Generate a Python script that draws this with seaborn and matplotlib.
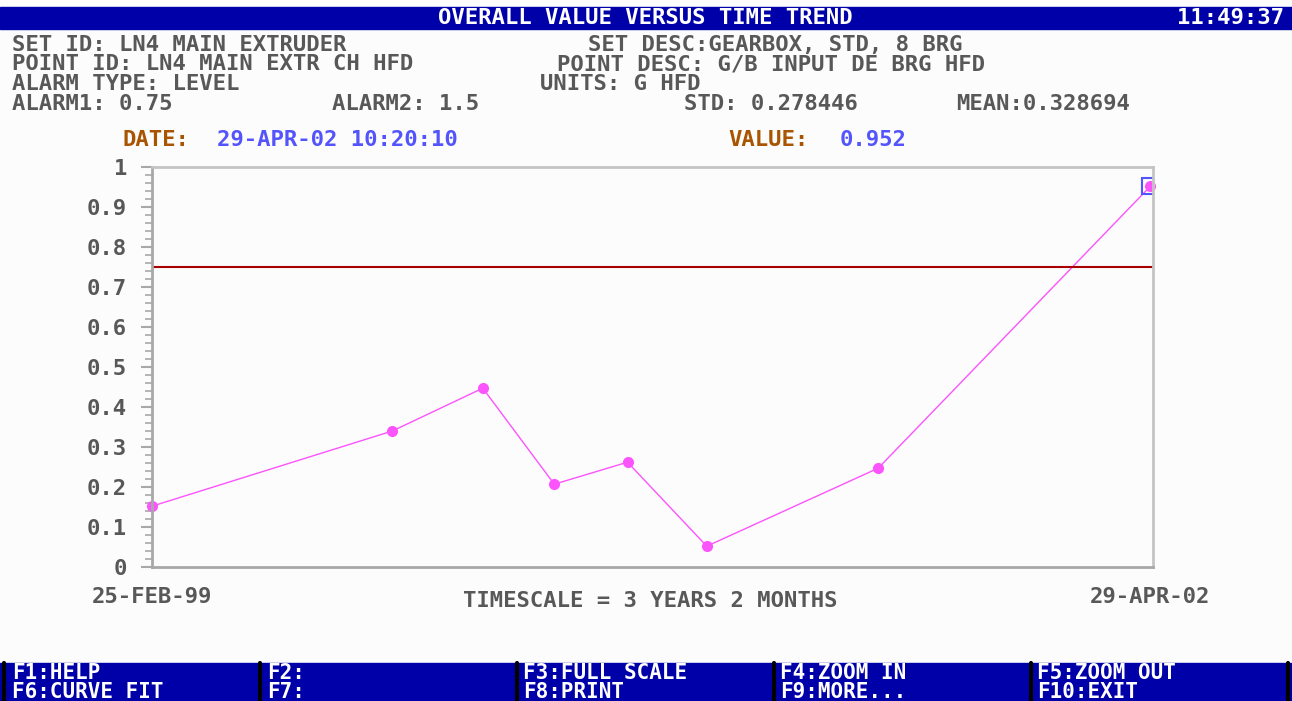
import pandas as pd
import numpy as np
import matplotlib
matplotlib.use("Agg")
import matplotlib.pyplot as plt
from matplotlib.patches import Rectangle
from matplotlib.ticker import MultipleLocator
import seaborn as sns

# trend data
dates = ["1999-02-25", "1999-12-01", "2000-03-15", "2000-06-06",
         "2000-08-30", "2000-11-30", "2001-06-17", "2002-04-29"]
values = [0.152, 0.340, 0.447, 0.207, 0.262, 0.052, 0.247, 0.952]
alarm1 = 0.75
start_label = "25-FEB-99"
end_label = "29-APR-02"
ytick_vals = [0, 0.1, 0.2, 0.3, 0.4, 0.5, 0.6, 0.7, 0.8, 0.9, 1]
ytick_labels = ["0", "0.1", "0.2", "0.3", "0.4", "0.5", "0.6", "0.7", "0.8", "0.9", "1"]

df = pd.DataFrame({"date": pd.to_datetime(dates), "value": values})

sns.set_style("white")
plt.rcParams["font.family"] = ["DejaVu Sans Mono", "DejaVu Sans"]
plt.rcParams["font.weight"] = "bold"

BG = "#fcfcfc"
GREY = "#585858"
BLUE_BAR = "#0000a8"
ORANGE = "#a85400"
LBLUE = "#5454fc"
MAGENTA = "#fc54fc"
FS = 16

fig = plt.figure(figsize=(12.92, 7.01), dpi=100, facecolor=BG)
W, H = 1292.0, 701.0

def fx(px):
    return px / W

def fy(py):
    return 1 - py / H

ax = fig.add_axes([fx(152), fy(567), fx(1153) - fx(152), fy(167) - fy(567)])
ax.set_facecolor(BG)

sns.lineplot(data=df, x="date", y="value", ax=ax, color=MAGENTA, lw=1.0,
             marker="o", markersize=8, markeredgewidth=0, clip_on=False)
ax.axhline(alarm1, color="#a80000", lw=1.5)
last = df.iloc[-1]
ax.plot([last["date"]], [last["value"]], marker="s", markersize=12,
        mfc="none", mec=LBLUE, mew=1.5, clip_on=True)

ax.set_xlim(df["date"].iloc[0], df["date"].iloc[-1] + pd.Timedelta(days=3))
ax.set_ylim(0, 1)
ax.set_yticks(ytick_vals)
ax.set_yticklabels(ytick_labels)
ax.yaxis.set_minor_locator(MultipleLocator(0.02))
ax.set_xticks([df["date"].iloc[0], df["date"].iloc[-1]])
ax.set_xticklabels([start_label, end_label])
ax.tick_params(axis="y", which="major", left=True, length=8, width=1.5,
               color="#a8a8a8", labelsize=FS, labelcolor=GREY, pad=10)
ax.tick_params(axis="y", which="minor", left=True, length=5, width=1.2,
               color="#a8a8a8")
ax.tick_params(axis="x", bottom=False, labelsize=FS, labelcolor=GREY, pad=11)
ax.set_xlabel("")
ax.set_ylabel("")
for s in ["left", "bottom"]:
    ax.spines[s].set_color("#a8a8a8")
    ax.spines[s].set_linewidth(2)
for s in ["top", "right"]:
    ax.spines[s].set_color("#c4c4c4")
    ax.spines[s].set_linewidth(2)

# title bar
fig.add_artist(Rectangle((0, fy(29)), 1, fy(7) - fy(29), transform=fig.transFigure,
                         color=BLUE_BAR, zorder=0))
fig.text(fx(645), fy(18), "OVERALL VALUE VERSUS TIME TREND", color="white",
         fontsize=FS, ha="center", va="center")
fig.text(fx(1284), fy(18), "11:49:37", color="white", fontsize=FS,
         ha="right", va="center")

# header info
hdr = [
    (12, 45, "SET ID: LN4 MAIN EXTRUDER"),
    (588, 45, "SET DESC:GEARBOX, STD, 8 BRG"),
    (12, 64, "POINT ID: LN4 MAIN EXTR CH HFD"),
    (557, 64, "POINT DESC: G/B INPUT DE BRG HFD"),
    (12, 84, "ALARM TYPE: LEVEL"),
    (540, 84, "UNITS: G HFD"),
    (12, 104, "ALARM1: 0.75"),
    (332, 104, "ALARM2: 1.5"),
    (684, 104, "STD: 0.278446"),
    (956, 104, "MEAN:0.328694"),
]
for x, y, t in hdr:
    fig.text(fx(x), fy(y), t, color=GREY, fontsize=FS, ha="left", va="center")

fig.text(fx(123), fy(140), "DATE:", color=ORANGE, fontsize=FS, va="center")
fig.text(fx(217), fy(140), "29-APR-02 10:20:10", color=LBLUE, fontsize=FS, va="center")
fig.text(fx(728), fy(140), "VALUE:", color=ORANGE, fontsize=FS, va="center")
fig.text(fx(840), fy(140), "0.952", color=LBLUE, fontsize=FS, va="center")

fig.text(fx(650), fy(601), "TIMESCALE = 3 YEARS 2 MONTHS", color=GREY,
         fontsize=FS, ha="center", va="center")

# function key bar
fig.add_artist(Rectangle((0, 0), 1, fy(663), transform=fig.transFigure,
                         color=BLUE_BAR, zorder=0))
for sx in [4, 260, 517, 774, 1031, 1288]:
    fig.add_artist(plt.Line2D([fx(sx), fx(sx)], [0, fy(663)], color="black",
                              lw=3, transform=fig.transFigure))
keys = [
    (12, "F1:HELP", "F6:CURVE FIT"),
    (267, "F2:", "F7:"),
    (523, "F3:FULL SCALE", "F8:PRINT"),
    (780, "F4:ZOOM IN", "F9:MORE..."),
    (1037, "F5:ZOOM OUT", "F10:EXIT"),
]
for x, a, b in keys:
    fig.text(fx(x), fy(673), a, color="white", fontsize=15, va="center")
    fig.text(fx(x), fy(692), b, color="white", fontsize=15, va="center")

fig.savefig("out.png", dpi=100, facecolor=BG)
